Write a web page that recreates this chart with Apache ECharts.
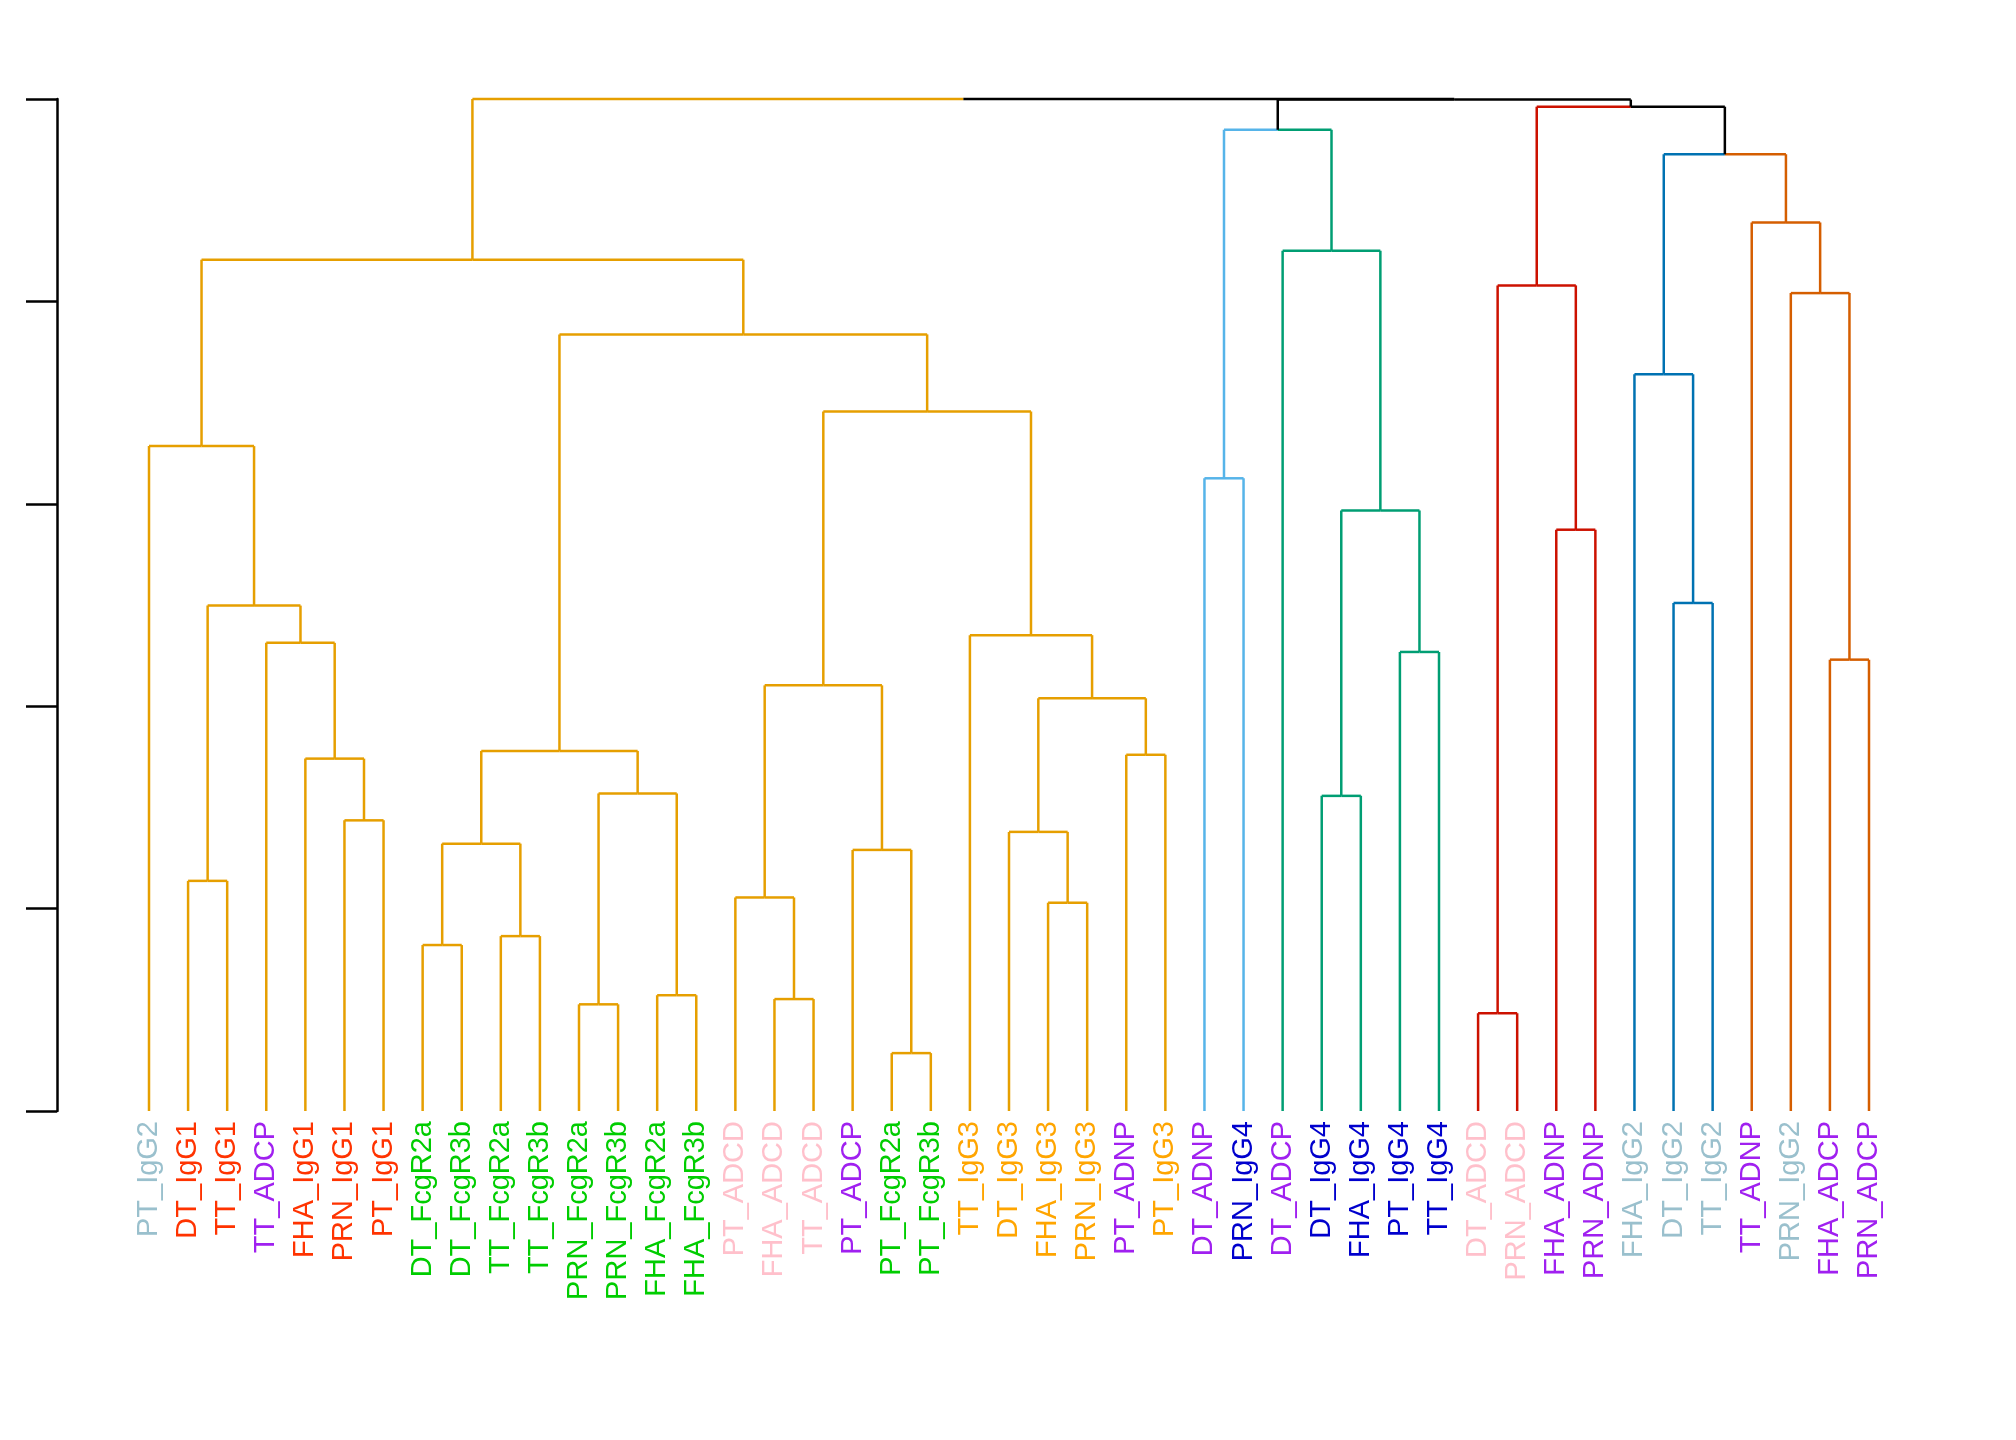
<!DOCTYPE html>
<html><head><meta charset="utf-8">
<script src="https://cdn.jsdelivr.net/npm/echarts@6/dist/echarts.min.js"></script>
<style>html,body{margin:0;background:#fff}#c{width:2016px;height:1440px}</style>
</head><body><div id="c"></div>
<script>
const leaves = ["PT_IgG2","DT_IgG1","TT_IgG1","TT_ADCP","FHA_IgG1","PRN_IgG1","PT_IgG1",
"DT_FcgR2a","DT_FcgR3b","TT_FcgR2a","TT_FcgR3b","PRN_FcgR2a","PRN_FcgR3b","FHA_FcgR2a","FHA_FcgR3b",
"PT_ADCD","FHA_ADCD","TT_ADCD","PT_ADCP","PT_FcgR2a","PT_FcgR3b",
"TT_IgG3","DT_IgG3","FHA_IgG3","PRN_IgG3","PT_ADNP","PT_IgG3",
"DT_ADNP","PRN_IgG4","DT_ADCP","DT_IgG4","FHA_IgG4","PT_IgG4","TT_IgG4",
"DT_ADCD","PRN_ADCD","FHA_ADNP","PRN_ADNP","FHA_IgG2","DT_IgG2","TT_IgG2",
"TT_ADNP","PRN_IgG2","FHA_ADCP","PRN_ADCP"];
const labelColorMap = {IgG1:"#FF3300",IgG2:"#9AC0CD",IgG3:"#FFA500",IgG4:"#0000CD",
FcgR2a:"#00CD00",FcgR3b:"#00CD00",ADCD:"#FFC0CB",ADCP:"#A020F0",ADNP:"#A020F0"};
const merges = [[-2,-3],[-6,-7],[-5,2],[-4,3],[1,4],[-1,5],[-8,-9],[-10,-11],[7,8],[-12,-13],
[-14,-15],[10,11],[9,12],[-17,-18],[-16,14],[-20,-21],[-19,16],[15,17],[-24,-25],[-23,19],
[-26,-27],[20,21],[-22,22],[18,23],[13,24],[6,25],[-28,-29],[-31,-32],[-33,-34],[28,29],
[-30,30],[27,31],[-35,-36],[-37,-38],[33,34],[-40,-41],[-39,36],[-44,-45],[-43,38],[-42,39],
[37,40],[35,41],[32,42],[26,43]];
const heights = [1.137,1.436,1.741,2.313,2.497,3.285,0.820,0.864,1.321,0.527,
0.572,1.569,1.779,0.553,1.055,0.286,1.290,2.103,1.029,1.379,
1.760,2.039,2.351,3.456,3.837,4.206,3.126,1.557,2.268,2.967,
4.250,4.848,0.483,2.872,4.079,2.510,3.640,2.230,4.041,4.390,
4.727,4.962,4.997,5.0];
const clusterNodes = [26,27,31,35,37,40];
const clusterColors = ["#E69F00","#56B4E9","#009E73","#CC1100","#0072B2","#D55E00"];

const nodeColor = {}; const leafColor = {};
function paint(id,c){ if(id<0){leafColor[-id]=c;return;} nodeColor[id]=c; paint(merges[id-1][0],c); paint(merges[id-1][1],c); }
clusterNodes.forEach((n,i)=>paint(n,clusterColors[i]));
const nx = {}; const segs = [];
function nodePos(id){ return id<0 ? -id-1 : nx[id]; }
function nodeTop(id){ return id<0 ? 0 : heights[id-1]; }
function nodeCol(id){ return id<0 ? (leafColor[-id]||'#000') : (nodeColor[id]||'#000'); }
merges.forEach((m,i)=>{
  const id=i+1, h=heights[i];
  const xa=nodePos(m[0]), xb=nodePos(m[1]); nx[id]=(xa+xb)/2;
  [[m[0],xa],[m[1],xb]].forEach(([c,x])=>{
    segs.push([x,nodeTop(c),x,h,nodeCol(c)]);
    segs.push([x,h,nx[id],h,nodeCol(c)]);
  });
});

const chart = echarts.init(document.getElementById('c'));
chart.setOption({
  animation:false,
  grid:{left:149,right:147,top:99,bottom:329},
  xAxis:{type:'value',min:0,max:44,interval:1,axisLine:{show:false},axisTick:{show:false},splitLine:{show:false},
    axisLabel:{rotate:90,margin:10,fontSize:29,fontFamily:'Liberation Sans, Arial, sans-serif',
      formatter:v=>leaves[Math.round(v)]||'',
      color:(v)=>{const n=leaves[Math.round(v)]; return n?labelColorMap[n.split('_')[1]]:'#000';}}},
  yAxis:{type:'value',min:0,max:5,interval:1,offset:92,
    axisLine:{show:true,onZero:false,lineStyle:{color:'#000',width:2.5}},
    axisTick:{show:true,length:31,lineStyle:{color:'#000',width:2.5}},
    axisLabel:{show:false},splitLine:{show:false}},
  series:[{type:'custom',data:segs.map((s,i)=>[i]),clip:false,
    renderItem:(params,api)=>{
      const s=segs[params.dataIndex];
      const p1=api.coord([s[0],s[1]]), p2=api.coord([s[2],s[3]]);
      return {type:'line',shape:{x1:p1[0],y1:p1[1],x2:p2[0],y2:p2[1]},style:{stroke:s[4],lineWidth:2.5}};
    }}]
});
</script></body></html>
